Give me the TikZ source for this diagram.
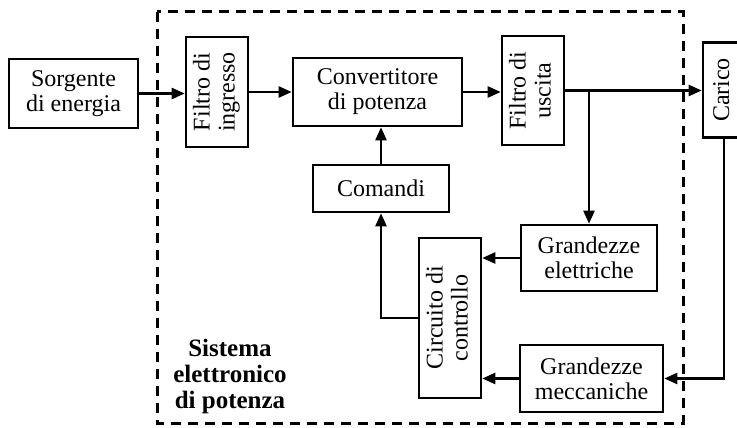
\documentclass[tikz,border=0pt]{standalone}
\usepackage{fontspec}
\setmainfont{Liberation Serif}
\usepackage{graphicx}
\usetikzlibrary{arrows.meta,positioning}
\newcommand{\vtext}[1]{\rotatebox{90}{\begin{tabular}{@{}c@{}}#1\end{tabular}}}

\begin{document}
\begin{tikzpicture}[x=1pt,y=-1pt,font=\fontsize{24}{25}\selectfont,
  blk/.style={draw,line width=2.6pt,inner sep=0pt,align=center},
  flow/.style={line width=2.4pt,-{Triangle[length=13pt,width=11pt]}},
  bound/.style={dash pattern=on 10pt off 7pt,line width=3pt}]
  \useasboundingbox (0,0) rectangle (737,428);

  % power path
  \node[blk,minimum width=129pt,minimum height=69pt] (src) at (73.5,93.5) {Sorgente\\di energia};
  \node[blk,minimum width=62pt,minimum height=110pt] (fin) at (217,92) {\vtext{Filtro di\\ingresso}};
  \node[blk,minimum width=169pt,minimum height=68pt] (conv) at (377.5,92) {Convertitore\\di potenza};
  \node[blk,minimum width=62pt,minimum height=109pt] (fout) at (533,90.5) {\vtext{Filtro di\\uscita}};
  \node[blk,minimum width=42pt,minimum height=95pt] (load) at (724,90) {\vtext{Carico}};

  % control path
  \node[blk,minimum width=136pt,minimum height=47pt] (cmd) at (381,188.5) {Comandi};
  \node[blk,minimum width=62pt,minimum height=160pt] (ctrl) at (450,318) {\vtext{Circuito di\\controllo}};
  \node[blk,minimum width=136pt,minimum height=66pt] (gel) at (589,258) {Grandezze\\elettriche};
  \node[blk,minimum width=143pt,minimum height=67pt] (gmec) at (591.5,378.5) {Grandezze\\meccaniche};

  % system boundary
  \draw[bound] (157,12) rectangle (683,423);
  \node[font=\fontsize{25}{26}\selectfont\bfseries,align=center] (sys) at (230,376) {Sistema\\elettronico\\di potenza};

  \draw[flow] (src.east) -- (src.east -| fin.west);
  \draw[flow] (conv.east -| fin.east) -- (conv.west);
  \draw[flow] (conv.east) -- (conv.east -| fout.west);
  \draw[flow] (fout.east) -- (fout.east -| load.west);
  \coordinate (tap) at (fout.east -| gel.north);
  \draw[flow] (tap) -- (gel.north);
  \draw[flow] (cmd.north) -- (cmd.north |- conv.south);
  \draw[flow] (ctrl.west) -| (cmd.south);
  \draw[flow] (gel.west) -- (gel.west -| ctrl.east);
  \draw[flow] (gmec.west) -- (gmec.west -| ctrl.east);
  \draw[flow] (load.south) |- (gmec.east);
\end{tikzpicture}
\end{document}
